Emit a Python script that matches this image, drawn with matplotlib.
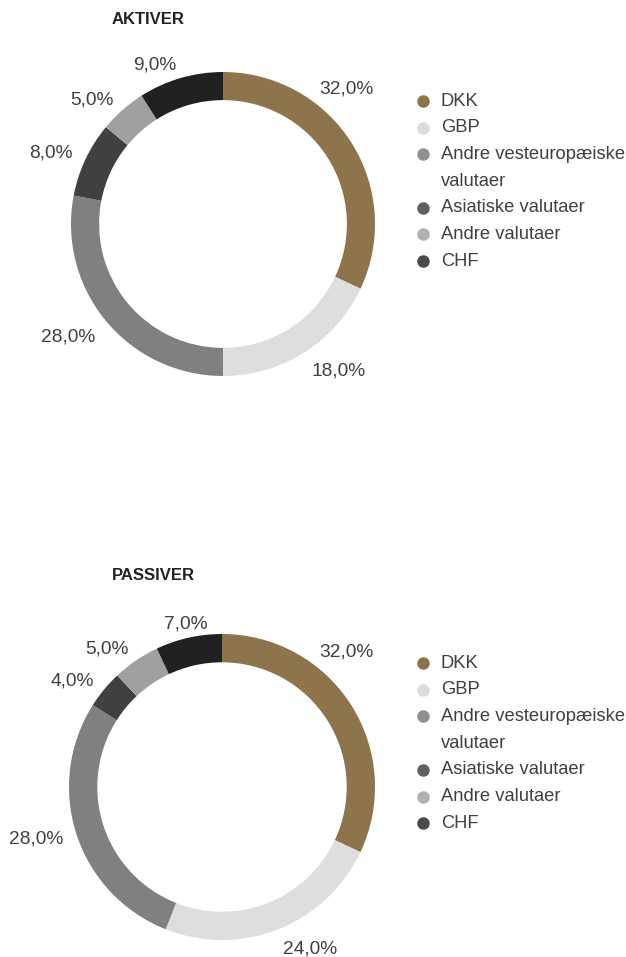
import matplotlib
matplotlib.use("Agg")
import matplotlib.pyplot as plt
import numpy as np

categories = ["DKK", "GBP", "Andre vesteuropæiske\nvalutaer", "Asiatiske valutaer", "Andre valutaer", "CHF"]
aktiver = [32.0, 18.0, 28.0, 8.0, 5.0, 9.0]
passiver = [32.0, 24.0, 28.0, 4.0, 5.0, 7.0]
titles = ["AKTIVER", "PASSIVER"]

colors = ["#8e744b", "#dedede", "#808080", "#404040", "#a0a0a0", "#212121"]
legend_colors = ["#8e744b", "#dcdcde", "#909094", "#606064", "#b0b0b4", "#4a4a4e"]

# where along each wedge its label sits (0 = wedge start, 1 = wedge end);
# the first label is pulled up to keep clear of the legend
label_frac = [0.31, 0.5, 0.5, 0.5, 0.5, 0.5]

W, H = 626, 957
fig = plt.figure(figsize=(W / 100, H / 100), dpi=100)
plt.rcParams['font.family'] = ['Liberation Sans', 'DejaVu Sans']
txt_color = "#404040"

def add_donut(values, title, cx, cy, R, title_xy, legend_y0):
    half = 200
    lim = half / R
    ax = fig.add_axes([(cx - half) / W, (H - cy - half) / H, 2 * half / W, 2 * half / H])
    ax.axis("off")
    wedges, _ = ax.pie(values, colors=colors, startangle=90, counterclock=False,
                       radius=1.0, wedgeprops=dict(width=0.185, edgecolor="none"))
    ax.set_xlim(-lim, lim)
    ax.set_ylim(-lim, lim)
    ax.set_aspect("equal")
    for w, v, f in zip(wedges, values, label_frac):
        # counterclock=False: wedge runs from theta2 (start) to theta1 (end)
        a = w.theta2 + (w.theta1 - w.theta2) * f
        ang = np.deg2rad(a)
        x, y = np.cos(ang), np.sin(ang)
        r = 1.09
        ha = "left" if x > 0.25 else ("right" if x < -0.25 else "center")
        dy = -5 if y < -0.6 else 0
        ax.annotate(f"{v:.1f}%".replace(".", ","), (r * x, r * y), xytext=(0, dy),
                    textcoords="offset points", ha=ha, va="center",
                    fontsize=13.8, color=txt_color)
    fig.text(title_xy[0] / W, 1 - title_xy[1] / H, title, ha="center", va="center",
             fontsize=12, fontweight="bold", color="#222222")
    # legend
    y = legend_y0
    step = 26.7
    for c, lab in zip(legend_colors, categories):
        lines = lab.split("\n")
        fig.add_artist(matplotlib.lines.Line2D([423 / W], [1 - y / H], marker="o",
                                               markersize=9, color=c, linestyle="none",
                                               markeredgewidth=0))
        for ln in lines:
            fig.text(441 / W, 1 - y / H, ln, ha="left", va="center", fontsize=13.2,
                     color=txt_color)
            y += step

add_donut(aktiver, titles[0], 223, 224, 152, (148, 19), 101)
add_donut(passiver, titles[1], 222, 787, 153, (153, 575), 663)

fig.savefig("out.png", dpi=100, facecolor="white")
